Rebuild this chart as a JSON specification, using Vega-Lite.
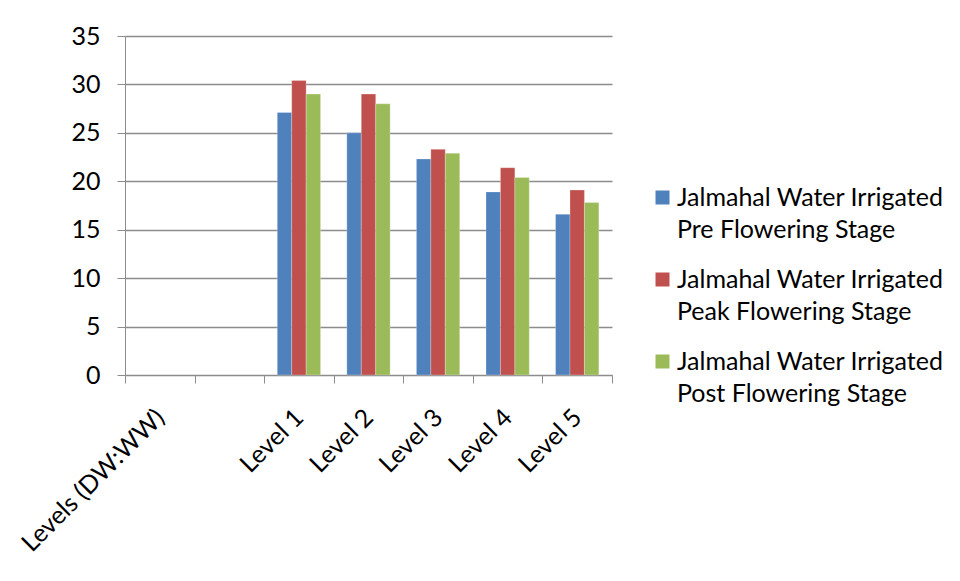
{
  "$schema": "https://vega.github.io/schema/vega-lite/v6.json",
  "autosize": {"type": "none"},
  "padding": {"left": 125, "top": 36, "right": 348, "bottom": 206},
  "width": 487,
  "height": 339,
  "background": "white",
  "data": {
    "values": [
      {"level": "Level 1", "series": "Jalmahal Water Irrigated|Pre Flowering Stage", "value": 27.1},
      {"level": "Level 1", "series": "Jalmahal Water Irrigated|Peak Flowering Stage", "value": 30.4},
      {"level": "Level 1", "series": "Jalmahal Water Irrigated|Post Flowering Stage", "value": 29.0},
      {"level": "Level 2", "series": "Jalmahal Water Irrigated|Pre Flowering Stage", "value": 25.0},
      {"level": "Level 2", "series": "Jalmahal Water Irrigated|Peak Flowering Stage", "value": 29.0},
      {"level": "Level 2", "series": "Jalmahal Water Irrigated|Post Flowering Stage", "value": 28.0},
      {"level": "Level 3", "series": "Jalmahal Water Irrigated|Pre Flowering Stage", "value": 22.3},
      {"level": "Level 3", "series": "Jalmahal Water Irrigated|Peak Flowering Stage", "value": 23.3},
      {"level": "Level 3", "series": "Jalmahal Water Irrigated|Post Flowering Stage", "value": 22.9},
      {"level": "Level 4", "series": "Jalmahal Water Irrigated|Pre Flowering Stage", "value": 18.9},
      {"level": "Level 4", "series": "Jalmahal Water Irrigated|Peak Flowering Stage", "value": 21.4},
      {"level": "Level 4", "series": "Jalmahal Water Irrigated|Post Flowering Stage", "value": 20.4},
      {"level": "Level 5", "series": "Jalmahal Water Irrigated|Pre Flowering Stage", "value": 16.6},
      {"level": "Level 5", "series": "Jalmahal Water Irrigated|Peak Flowering Stage", "value": 19.1},
      {"level": "Level 5", "series": "Jalmahal Water Irrigated|Post Flowering Stage", "value": 17.8}
    ]
  },
  "mark": {"type": "bar", "stroke": "#ffffff", "strokeOpacity": 0.5, "strokeWidth": 0.5},
  "encoding": {
    "x": {
      "field": "level",
      "type": "nominal",
      "scale": {"domain": ["Levels (DW:WW)", " ", "Level 1", "Level 2", "Level 3", "Level 4", "Level 5"], "paddingInner": 0, "paddingOuter": 0},
      "axis": {
        "title": null,
        "labelAngle": -45,
        "labelAlign": "right",
        "labelBaseline": "middle",
        "labelPadding": 30,
        "labelOffset": 0,
        "tickBand": "extent",
        "tickSize": 8,
        "tickColor": "#8c8c8c",
        "domainColor": "#8c8c8c",
        "labelFont": "Lato",
        "labelFontSize": 25,
        "labelColor": "#000000",
        "labelLimit": 400,
        "grid": false
      }
    },
    "xOffset": {
      "field": "series",
      "type": "nominal",
      "sort": ["Jalmahal Water Irrigated|Pre Flowering Stage", "Jalmahal Water Irrigated|Peak Flowering Stage", "Jalmahal Water Irrigated|Post Flowering Stage"],
      "scale": {"paddingOuter": 0.91, "paddingInner": 0}
    },
    "y": {
      "field": "value",
      "type": "quantitative",
      "scale": {"domain": [0, 35], "nice": false},
      "axis": {
        "title": null,
        "values": [0, 5, 10, 15, 20, 25, 30, 35],
        "tickSize": 8,
        "tickColor": "#8c8c8c",
        "domainColor": "#8c8c8c",
        "gridColor": "#8c8c8c",
        "gridWidth": 1.3,
        "labelPadding": 17,
        "labelFont": "Lato",
        "labelFontSize": 25,
        "labelColor": "#000000"
      }
    },
    "color": {
      "field": "series",
      "type": "nominal",
      "scale": {
        "domain": ["Jalmahal Water Irrigated|Pre Flowering Stage", "Jalmahal Water Irrigated|Peak Flowering Stage", "Jalmahal Water Irrigated|Post Flowering Stage"],
        "range": ["#4F81BD", "#C0504D", "#9BBB59"]
      },
      "legend": {
        "title": null,
        "orient": "none",
        "legendX": 525,
        "legendY": 149,
        "padding": 0,
        "symbolType": "square",
        "symbolSize": 196,
        "symbolStrokeWidth": 0,
        "labelExpr": "split(datum.label, '|')",
        "labelFont": "Lato",
        "labelFontSize": 25,
        "labelColor": "#000000",
        "labelLimit": 500,
        "labelOffset": 2,
        "rowPadding": 24
      }
    }
  },
  "config": {
    "view": {"stroke": null},
    "style": {"guide-label": {"lineHeight": 32}}
  }
}
